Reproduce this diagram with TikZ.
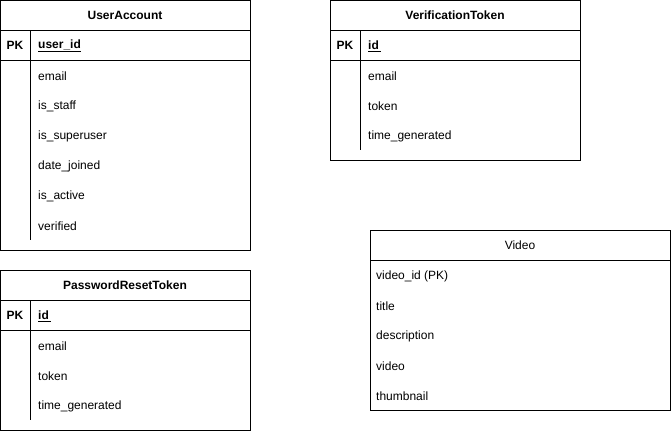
\documentclass[tikz,border=0pt]{standalone}
\usepackage{fontspec}
\setmainfont{Liberation Sans}
\usepackage{tikz}
\usetikzlibrary{positioning}
\tikzset{tbl/.style = {draw, line width = 1pt}}
\tikzset{hd/.style = {font = \fontsize{12}{14}\selectfont\bfseries}}
\tikzset{hdp/.style = {font = \fontsize{12}{14}\selectfont}}
\tikzset{fld/.style = {anchor = west, inner sep = 0, yshift = -1pt, font = \fontsize{12}{14}\selectfont}}
\tikzset{pk/.style = {inner sep = 0, font = \fontsize{12}{14}\selectfont\bfseries}}

\begin{document}
\begin{tikzpicture}[x = 1pt, y = -1pt]
    \useasboundingbox (0, 0) rectangle (671, 431);

    % UserAccount
    \draw [tbl] (0.5, 0.5) rectangle (250, 250);
    \draw [tbl] (0.5, 30) -- (250, 30);
    \draw [tbl] (0.5, 60) -- (250, 60);
    \draw [tbl] (30, 30) -- (30, 240);
    \node [hd] (ua) at (125, 15) {UserAccount};
    \node [pk] (uapk) at (15, 45) {PK};
    \node [fld, font = \fontsize{12}{14}\selectfont\bfseries] (uaid) at (38, 45) {\underline{user\_id}};
    \node [fld] (uaemail) at (38, 75) {email};
    \node [fld] (uastaff) at (38, 105) {is\_staff};
    \node [fld] (uasuper) at (38, 135) {is\_superuser};
    \node [fld] (uajoined) at (38, 165) {date\_joined};
    \node [fld] (uaactive) at (38, 195) {is\_active};
    \node [fld] (uaverified) at (38, 225) {verified};

    % PasswordResetToken
    \draw [tbl] (0.5, 270) rectangle (250, 430);
    \draw [tbl] (0.5, 300) -- (250, 300);
    \draw [tbl] (0.5, 330) -- (250, 330);
    \draw [tbl] (30, 300) -- (30, 420);
    \node [hd] (prt) at (125, 285) {PasswordResetToken};
    \node [pk] (prtpk) at (15, 315) {PK};
    \node [fld, font = \fontsize{12}{14}\selectfont\bfseries] (prtid) at (38, 315) {\underline{id\,}};
    \node [fld] (prtemail) at (38, 345) {email};
    \node [fld] (prttoken) at (38, 375) {token};
    \node [fld] (prttime) at (38, 405) {time\_generated};

    % VerificationToken
    \draw [tbl] (330, 0.5) rectangle (580, 160);
    \draw [tbl] (330, 30) -- (580, 30);
    \draw [tbl] (330, 60) -- (580, 60);
    \draw [tbl] (360, 30) -- (360, 150);
    \node [hd] (vt) at (455, 15) {VerificationToken};
    \node [pk] (vtpk) at (345, 45) {PK};
    \node [fld, font = \fontsize{12}{14}\selectfont\bfseries] (vtid) at (368, 45) {\underline{id\,}};
    \node [fld] (vtemail) at (368, 75) {email};
    \node [fld] (vttoken) at (368, 105) {token};
    \node [fld] (vttime) at (368, 135) {time\_generated};

    % Video
    \draw [tbl] (370, 230) rectangle (670, 410);
    \draw [tbl] (370, 260) -- (670, 260);
    \node [hdp] (vid) at (520, 245) {Video};
    \node [fld] (vidid) at (376, 275) {video\_id (PK)};
    \node [fld] (vidtitle) at (376, 305) {title};
    \node [fld] (viddesc) at (376, 335) {description};
    \node [fld] (vidvideo) at (376, 365) {video};
    \node [fld] (vidthumb) at (376, 395) {thumbnail};
\end{tikzpicture}
\end{document}
